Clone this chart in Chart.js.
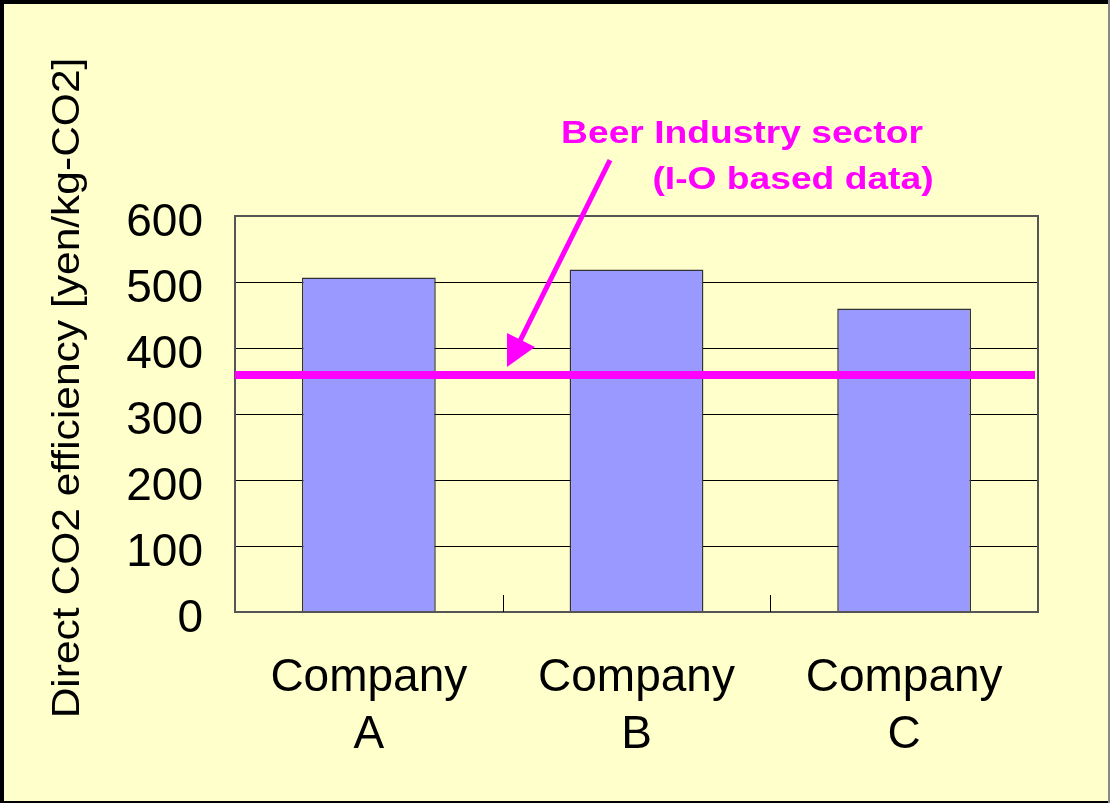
<!DOCTYPE html>
<html>
<head>
<meta charset="utf-8">
<style>
html,body{margin:0;padding:0;background:#ffffcc;}
#wrap{width:1110px;height:803px;}
</style>
<script src="https://cdn.jsdelivr.net/npm/chart.js@4"></script>
</head>
<body>
<div id="wrap"><canvas id="chart"></canvas></div>
<script>
const companies=[["Company","A"],["Company","B"],["Company","C"]];
const efficiency=[507,519,460];
const sectorValue=359;
const yTicks=[0,100,200,300,400,500,600];
const sectorLabel=["Beer Industry sector","(I-O based data)"];
const yTitle="Direct CO2 efficiency [yen/kg-CO2]";

const FONT='"Liberation Sans", Arial, sans-serif';

// draws stretched text, the original fonts look wider than Arial
function wideText(ctx,txt,x,y,sx){
ctx.save();
ctx.translate(x,y);
ctx.scale(sx,1);
ctx.fillText(txt,0,0);
ctx.restore();
}

const extras={
id:"extras",
beforeDraw(chart){
const ctx=chart.ctx;
ctx.save();
ctx.fillStyle="#ffffcc";
ctx.fillRect(0,0,chart.width,chart.height);
ctx.restore();
},
afterDatasetsDraw(chart){
const ctx=chart.ctx;
const a=chart.chartArea;
const x=chart.scales.x, y=chart.scales.y;
ctx.save();

// plot frame
ctx.strokeStyle="#555";
ctx.lineWidth=2;
ctx.strokeRect(a.left,a.top,a.right-a.left,a.bottom-a.top);

// inward ticks between categories
ctx.strokeStyle="#000";
ctx.lineWidth=1;
for(let i=0;i<companies.length-1;i++){
const px=Math.round((x.getPixelForTick(i)+x.getPixelForTick(i+1))/2)+0.5;
ctx.beginPath();
ctx.moveTo(px,a.bottom);
ctx.lineTo(px,a.bottom-17);
ctx.stroke();
}

// sector reference line
const ly=y.getPixelForValue(sectorValue);
ctx.strokeStyle="#ff00ff";
ctx.lineWidth=8;
ctx.beginPath();
ctx.moveTo(a.left,ly);
ctx.lineTo(a.right-3,ly);
ctx.stroke();

// arrow
const tipX=a.left+272, tipY=ly-8;
const tailX=tipX+103, tailY=tipY-207;
const ang=Math.atan2(tipY-tailY,tipX-tailX);
ctx.lineWidth=5;
ctx.beginPath();
ctx.moveTo(tailX,tailY);
ctx.lineTo(tipX-Math.cos(ang)*25,tipY-Math.sin(ang)*25);
ctx.stroke();
ctx.fillStyle="#ff00ff";
ctx.beginPath();
ctx.moveTo(tipX,tipY);
ctx.lineTo(tipX,tipY-34);
ctx.lineTo(tipX+28,tipY-20);
ctx.closePath();
ctx.fill();

// annotation text
ctx.font="bold 31px "+FONT;
ctx.textAlign="center";
ctx.textBaseline="middle";
wideText(ctx,sectorLabel[0],742,134,1.2);
wideText(ctx,sectorLabel[1],793,180,1.2);

// y title
ctx.fillStyle="#000";
ctx.font="39px "+FONT;
ctx.save();
ctx.translate(68,388);
ctx.rotate(-Math.PI/2);
wideText(ctx,yTitle,0,0,1.09);
ctx.restore();

// outer frame
ctx.fillStyle="#000";
ctx.fillRect(0,0,chart.width,4);
ctx.fillRect(0,0,4,chart.height);
ctx.fillRect(0,chart.height-2,chart.width,2);
ctx.fillStyle="#888";
ctx.fillRect(chart.width-2,0,2,chart.height);
ctx.restore();
}
};

new Chart(document.getElementById("chart"),{
type:"bar",
data:{
labels:companies,
datasets:[{
data:efficiency,
backgroundColor:"#9999ff",
borderColor:"#333",
borderWidth:1.5,
barPercentage:0.5,
categoryPercentage:1
}]
},
options:{
responsive:true,
maintainAspectRatio:false,
animation:false,
layout:{padding:{left:0,right:72,top:216,bottom:0}},
plugins:{legend:{display:false},tooltip:{enabled:false}},
scales:{
x:{
grid:{display:false},
border:{display:false},
ticks:{color:"#000",font:{family:FONT,size:46,lineHeight:1.24},padding:30,maxRotation:0},
afterFit(s){s.height=191;}
},
y:{
min:0,max:600,
afterBuildTicks(s){s.ticks=yTicks.map(v=>({value:v}));},
grid:{color:"#000",lineWidth:1,drawTicks:false},
border:{display:false},
ticks:{color:"#000",font:{family:FONT,size:46},padding:32,labelOffset:7},
afterFit(s){s.width=235;}
}
}
},
plugins:[extras]
});
</script>
</body>
</html>
